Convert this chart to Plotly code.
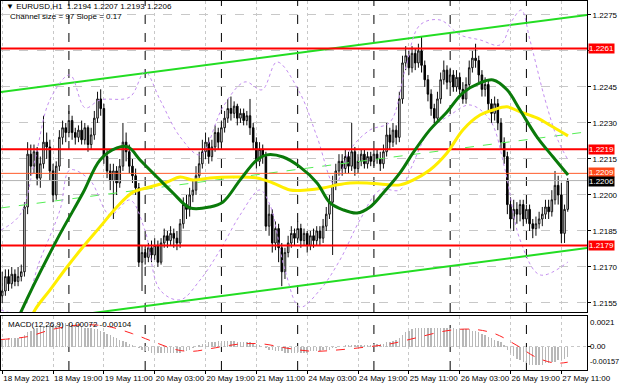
import plotly.graph_objects as go

# ---------------- data ----------------
open_ = [1.2158,1.2160,1.2166,1.2163,1.2167,1.2164,1.2166,1.2168,1.2195,1.2217,
         1.2212,1.2218,1.2207,1.2213,1.2222,1.2220,1.2210,1.2200,1.2212,1.2224,
         1.2228,1.2226,1.2231,1.2226,1.2224,1.2227,1.2223,1.2228,1.2221,1.2225,
         1.2232,1.2240,1.2236,1.2216,1.2210,1.2206,1.2210,1.2205,1.2212,1.2222,
         1.2218,1.2212,1.2208,1.2203,1.2172,1.2176,1.2174,1.2178,1.2175,1.2179,
         1.2172,1.2180,1.2183,1.2181,1.2184,1.2182,1.2180,1.2188,1.2196,1.2194,
         1.2200,1.2202,1.2208,1.2213,1.2218,1.2222,1.2216,1.2220,1.2226,1.2222,
         1.2228,1.2232,1.2236,1.2234,1.2237,1.2232,1.2234,1.2231,1.2233,1.2228,
         1.2222,1.2214,1.2219,1.2216,1.2187,1.2192,1.2180,1.2186,1.2178,1.2168,
         1.2176,1.2180,1.2184,1.2182,1.2186,1.2181,1.2184,1.2179,1.2183,1.2181,
         1.2185,1.2182,1.2187,1.2192,1.2197,1.2204,1.2210,1.2214,1.2211,1.2216,
         1.2212,1.2218,1.2211,1.2214,1.2217,1.2213,1.2216,1.2214,1.2217,1.2215,
         1.2213,1.2218,1.2225,1.2222,1.2227,1.2224,1.2240,1.2255,1.2258,1.2253,
         1.2259,1.2255,1.2260,1.2254,1.2248,1.2242,1.2236,1.2232,1.2240,1.2248,
         1.2252,1.2247,1.2250,1.2245,1.2249,1.2244,1.2240,1.2246,1.2253,1.2257,
         1.2256,1.2250,1.2244,1.2246,1.2238,1.2234,1.2238,1.2230,1.2222,1.2216,
         1.2196,1.2190,1.2194,1.2192,1.2196,1.2190,1.2194,1.2188,1.2186,1.2188,
         1.2190,1.2192,1.2195,1.2193,1.2198,1.2204,1.2200,1.2184,1.2194]
high = [1.2168,1.2169,1.2169,1.2170,1.2169,1.2170,1.2171,1.2197,1.2222,1.2221,
        1.2221,1.2220,1.2216,1.2233,1.2226,1.2223,1.2213,1.2214,1.2227,1.2231,
        1.2230,1.2235,1.2233,1.2228,1.2229,1.2231,1.2230,1.2229,1.2228,1.2235,
        1.2243,1.2244,1.2238,1.2219,1.2213,1.2213,1.2212,1.2215,1.2230,1.2226,
        1.2221,1.2215,1.2211,1.2205,1.2179,1.2179,1.2180,1.2181,1.2182,1.2181,
        1.2182,1.2186,1.2185,1.2187,1.2186,1.2185,1.2190,1.2199,1.2200,1.2203,
        1.2206,1.2212,1.2218,1.2223,1.2226,1.2224,1.2223,1.2229,1.2228,1.2231,
        1.2235,1.2240,1.2241,1.2239,1.2238,1.2236,1.2236,1.2235,1.2240,1.2230,
        1.2224,1.2222,1.2221,1.2218,1.2196,1.2194,1.2189,1.2188,1.2180,1.2178,
        1.2183,1.2187,1.2186,1.2189,1.2188,1.2186,1.2185,1.2185,1.2186,1.2187,
        1.2187,1.2190,1.2195,1.2200,1.2208,1.2213,1.2217,1.2217,1.2219,1.2218,
        1.2230,1.2220,1.2217,1.2219,1.2219,1.2218,1.2218,1.2219,1.2219,1.2218,
        1.2221,1.2230,1.2228,1.2230,1.2229,1.2243,1.2258,1.2262,1.2260,1.2262,
        1.2261,1.2263,1.2266,1.2256,1.2250,1.2244,1.2238,1.2243,1.2251,1.2256,
        1.2254,1.2253,1.2252,1.2252,1.2251,1.2247,1.2249,1.2256,1.2260,1.2263,
        1.2258,1.2252,1.2249,1.2248,1.2240,1.2241,1.2240,1.2232,1.2224,1.2218,
        1.2199,1.2198,1.2197,1.2198,1.2198,1.2196,1.2196,1.2190,1.2191,1.2193,
        1.2195,1.2198,1.2198,1.2202,1.2210,1.2208,1.2205,1.2196,1.2207]
low = [1.2155,1.2158,1.2160,1.2161,1.2162,1.2162,1.2164,1.2166,1.2192,1.2208,
       1.2209,1.2204,1.2203,1.2211,1.2215,1.2206,1.2197,1.2198,1.2210,1.2221,
       1.2222,1.2224,1.2223,1.2221,1.2222,1.2221,1.2221,1.2218,1.2219,1.2223,
       1.2230,1.2233,1.2213,1.2207,1.2202,1.2190,1.2200,1.2203,1.2210,1.2214,
       1.2209,1.2205,1.2200,1.2170,1.2160,1.2171,1.2172,1.2172,1.2173,1.2170,
       1.2171,1.2178,1.2178,1.2179,1.2178,1.2177,1.2178,1.2186,1.2190,1.2191,
       1.2197,1.2200,1.2206,1.2211,1.2215,1.2213,1.2214,1.2218,1.2219,1.2220,
       1.2226,1.2230,1.2231,1.2232,1.2229,1.2230,1.2229,1.2229,1.2225,1.2219,
       1.2211,1.2212,1.2213,1.2185,1.2183,1.2176,1.2177,1.2172,1.2162,1.2165,
       1.2174,1.2178,1.2179,1.2180,1.2178,1.2179,1.2176,1.2177,1.2178,1.2179,
       1.2179,1.2180,1.2185,1.2190,1.2175,1.2202,1.2208,1.2208,1.2209,1.2209,
       1.2210,1.2208,1.2209,1.2212,1.2211,1.2211,1.2212,1.2212,1.2213,1.2210,
       1.2211,1.2216,1.2219,1.2220,1.2221,1.2222,1.2238,1.2252,1.2250,1.2251,
       1.2252,1.2253,1.2251,1.2245,1.2239,1.2233,1.2230,1.2230,1.2238,1.2246,
       1.2244,1.2245,1.2243,1.2243,1.2242,1.2238,1.2238,1.2244,1.2251,1.2253,
       1.2247,1.2241,1.2241,1.2235,1.2230,1.2231,1.2227,1.2219,1.2213,1.2192,
       1.2186,1.2185,1.2188,1.2189,1.2187,1.2188,1.2185,1.2182,1.2183,1.2186,
       1.2187,1.2190,1.2190,1.2191,1.2196,1.2196,1.2180,1.2180,1.2193]
close = [1.2160,1.2166,1.2163,1.2167,1.2164,1.2166,1.2168,1.2195,1.2217,1.2212,
         1.2218,1.2207,1.2213,1.2222,1.2220,1.2210,1.2200,1.2212,1.2224,1.2228,
         1.2226,1.2231,1.2226,1.2224,1.2227,1.2223,1.2228,1.2221,1.2225,1.2232,
         1.2240,1.2236,1.2216,1.2210,1.2206,1.2210,1.2205,1.2212,1.2222,1.2218,
         1.2212,1.2208,1.2203,1.2172,1.2176,1.2174,1.2178,1.2175,1.2179,1.2172,
         1.2180,1.2183,1.2181,1.2184,1.2182,1.2180,1.2188,1.2196,1.2194,1.2200,
         1.2202,1.2208,1.2213,1.2218,1.2222,1.2216,1.2220,1.2226,1.2222,1.2228,
         1.2232,1.2236,1.2234,1.2237,1.2232,1.2234,1.2231,1.2233,1.2228,1.2222,
         1.2214,1.2219,1.2216,1.2187,1.2192,1.2180,1.2186,1.2178,1.2168,1.2176,
         1.2180,1.2184,1.2182,1.2186,1.2181,1.2184,1.2179,1.2183,1.2181,1.2185,
         1.2182,1.2187,1.2192,1.2197,1.2204,1.2210,1.2214,1.2211,1.2216,1.2212,
         1.2218,1.2211,1.2214,1.2217,1.2213,1.2216,1.2214,1.2217,1.2215,1.2213,
         1.2218,1.2225,1.2222,1.2227,1.2224,1.2240,1.2255,1.2258,1.2253,1.2259,
         1.2255,1.2260,1.2254,1.2248,1.2242,1.2236,1.2232,1.2240,1.2248,1.2252,
         1.2247,1.2250,1.2245,1.2249,1.2244,1.2240,1.2246,1.2253,1.2257,1.2256,
         1.2250,1.2244,1.2246,1.2238,1.2234,1.2238,1.2230,1.2222,1.2216,1.2196,
         1.2190,1.2194,1.2192,1.2196,1.2190,1.2194,1.2188,1.2186,1.2188,1.2190,
         1.2192,1.2195,1.2193,1.2198,1.2204,1.2200,1.2184,1.2194,1.2206]
bars = list(range(len(close)))

time_tick_bars = [0, 16, 32, 48, 64, 80, 96, 112, 128, 144, 160, 176]
time_tick_labels = ["18 May 2021", "18 May 19:00", "19 May 11:00", "20 May 03:00",
                    "20 May 19:00", "21 May 11:00", "24 May 03:00", "24 May 19:00",
                    "25 May 11:00", "26 May 03:00", "26 May 19:00", "27 May 11:00"]
day_separator_bars = [21, 45, 69, 93, 117, 141, 165]

price_ticks = [1.2155, 1.2170, 1.2185, 1.2200, 1.2215, 1.2230, 1.2245, 1.2260, 1.2275]
price_tick_labels = ["1.2155", "1.2170", "1.2185", "1.2200", "1.2215", "1.2230", "1.2245", "", "1.2275"]

level_prices = [1.2261, 1.2219, 1.2179]
ask_price = 1.2209
bid_price = 1.2206

# moving averages (bar position, price)
ma_green_x = [4, 6.2, 17.2, 25.4, 30.8, 36.1, 39.6, 43.4, 48.7, 53.8, 59.1, 65.4, 69.5, 74.9,
              80.2, 83.3, 88.4, 93.7, 99.1, 103.2, 107.3, 111.7, 115.8, 119.9, 125.2, 129.3,
              134.6, 140.0, 145.0, 150.4, 154.5, 158.9, 163.0, 168.3, 173.4, 178.1]
ma_green_y = [1.2145, 1.21521, 1.21813, 1.22008, 1.22146, 1.22196, 1.22200, 1.22146, 1.22075,
              1.22008, 1.21946, 1.21950, 1.21971, 1.22063, 1.22146, 1.22167, 1.22158, 1.22117,
              1.22050, 1.21967, 1.21938, 1.21925, 1.21950, 1.22008, 1.22092, 1.22175, 1.22271,
              1.22346, 1.22425, 1.22467, 1.22479, 1.22438, 1.22354, 1.22242, 1.22158, 1.22083]
ma_yellow_x = [8, 10.3, 15.0, 20.4, 25.4, 30.8, 36.1, 41.2, 46.5, 51.9, 56.0, 60.1, 65.4, 72.6,
               80.2, 85.2, 90.6, 95.9, 101.0, 105.4, 109.5, 114.8, 118.9, 125.2, 129.3, 134.6,
               140.0, 145.0, 150.4, 154.5, 158.9, 163.0, 168.3, 173.4, 178.1]
ma_yellow_y = [1.2145, 1.21521, 1.21604, 1.21700, 1.21783, 1.21867, 1.21950, 1.22012, 1.22033,
               1.22054, 1.22075, 1.22062, 1.22071, 1.22075, 1.22071, 1.22050, 1.22021, 1.22021,
               1.22029, 1.22042, 1.22050, 1.22050, 1.22046, 1.22042, 1.22062, 1.22104, 1.22175,
               1.22271, 1.22333, 1.22354, 1.22367, 1.22346, 1.22321, 1.22283, 1.22246]

# Bollinger-style envelope (dotted violet)
bb_upper_x = [-0.4, 5.6, 10.3, 15.0, 21.3, 26.1, 30.8, 40.2, 44.9, 49.7, 56.0, 62.3, 69.5, 76.4,
              81.8, 86.5, 93.7, 99.1, 104.7, 109.5, 115.8, 122.1, 126.8, 131.5, 137.8, 144.1,
              150.4, 156.7, 160.6, 163.4, 166.1, 170.9, 174.9, 178.1]
bb_upper_y = [1.21854, 1.21917, 1.22146, 1.22396, 1.22500, 1.22363, 1.22396, 1.22408, 1.22513,
              1.22396, 1.22242, 1.22167, 1.22367, 1.22471, 1.22438, 1.22554, 1.22425, 1.22242,
              1.22042, 1.22188, 1.22271, 1.22304, 1.22521, 1.22708, 1.22729, 1.22667, 1.22646,
              1.22625, 1.22729, 1.22770, 1.22646, 1.22396, 1.22229, 1.22146]
bb_lower_x = [-0.4, 5.6, 11.9, 18.2, 21.3, 27.6, 33.9, 40.2, 44.9, 49.7, 56.0, 62.3, 68.6, 74.9,
              81.1, 84.3, 89.0, 93.7, 100.0, 106.3, 112.6, 118.9, 125.2, 128.4, 134.6, 141.0,
              147.2, 153.5, 158.3, 163.0, 169.3, 178.1]
bb_lower_y = [1.21521, 1.21513, 1.21729, 1.21938, 1.22104, 1.22062, 1.21917, 1.21979, 1.21854,
              1.21604, 1.21563, 1.21646, 1.21771, 1.21917, 1.22021, 1.21958, 1.21688, 1.21533,
              1.21604, 1.21729, 1.21896, 1.22021, 1.22021, 1.22104, 1.22271, 1.22333, 1.22375,
              1.22313, 1.22104, 1.21813, 1.21667, 1.21721]

# regression channel (ends at chart edges)
channel_x = [-0.4, 184.1]
channel_upper = [1.22429, 1.22750]
channel_mid = [1.21946, 1.22263]
channel_lower = [1.21458, 1.21779]

# MACD(12,26,9)
macd_hist = [0.0005, 0.0005, 0.0006, 0.0006, 0.0006, 0.0006, 0.0006,
             0.0008, 0.0010, 0.0011, 0.0012, 0.0013, 0.0014, 0.0014, 0.0015, 0.0015, 0.0015, 0.0015, 0.0016,
             0.0016, 0.0016, 0.0016, 0.0015, 0.0015, 0.0014, 0.0014, 0.0013, 0.0013, 0.0013, 0.0012, 0.0012,
             0.0011, 0.0010, 0.0009, 0.0008, 0.0007, 0.0006, 0.0005, 0.0004, 0.0003, 0.0002, 0.0001,
             0.0000, -0.0001, -0.0002, -0.0003, -0.0003,
             -0.0004, -0.0004, -0.0004, -0.0004, -0.0004, -0.0004, -0.0004, -0.0004, -0.0004, -0.0004,
             -0.0003, -0.0003, -0.0002,
             -0.0001, 0.0000, 0.0001,
             0.0002, 0.0002, 0.0003, 0.0003, 0.0003, 0.0004, 0.0004, 0.0004, 0.0004, 0.0004, 0.0004,
             0.0003, 0.0003, 0.0003, 0.0003, 0.0003, 0.0002, 0.0002,
             0.0001, 0.0000, -0.0001, -0.0002, -0.0002, -0.0003, -0.0003, -0.0003, -0.0004, -0.0004,
             -0.0004, -0.0004, -0.0004, -0.0004, -0.0004, -0.0004, -0.0003, -0.0003, -0.0003, -0.0003,
             -0.0002, -0.0002, -0.0002, -0.0001, -0.0001,
             0.0000, 0.0000, 0.0001, 0.0001, 0.0001, 0.0001, 0.0001, 0.0001, 0.0001, 0.0001, 0.0001,
             0.0002, 0.0002, 0.0002, 0.0002,
             0.0003, 0.0003, 0.0004, 0.0005, 0.0006,
             0.0008, 0.0010, 0.0011, 0.0012, 0.0013, 0.0013, 0.0013, 0.0013, 0.0013, 0.0013, 0.0013,
             0.0013, 0.0013, 0.0013, 0.0013, 0.0013, 0.0013, 0.0012, 0.0012, 0.0012, 0.0012, 0.0012,
             0.0011, 0.0011, 0.0010,
             0.0009, 0.0008, 0.0007, 0.0006, 0.0005, 0.0004, 0.0003, 0.0001,
             -0.0002, -0.0004, -0.0006, -0.0008, -0.0009, -0.0010, -0.0011, -0.0012, -0.0012, -0.0012,
             -0.0012, -0.0012,
             -0.0011, -0.0011, -0.0010, -0.0010, -0.0009, -0.0009, -0.0008, -0.00072]
macd_signal_x = [-0.4, 8, 16, 25, 33, 41, 47, 55, 60, 66, 75, 82, 90, 98, 106, 115, 122, 130,
                 140, 148, 155, 162, 168, 174, 178]
macd_signal_y = [0.0005, 0.0007, 0.0012, 0.0015, 0.0014, 0.0009, 0.0004, -0.0002, -0.0003,
                 -0.0001, 0.0002, 0.0002, -0.0001, -0.0003, -0.0002, 0.0000, 0.0002, 0.0006,
                 0.0011, 0.0012, 0.0009, 0.0001, -0.0007, -0.0011, -0.00104]
macd_range = [-0.00157, 0.0021]

# ---------------- figure ----------------
FONT = "Liberation Sans"
FS = 8
GRID = "#c8c8c8"
fig = go.Figure()

# channel
fig.add_trace(go.Scatter(x=channel_x, y=channel_upper, mode="lines",
                         line=dict(color="#22dd22", width=2), xaxis="x", yaxis="y"))
fig.add_trace(go.Scatter(x=channel_x, y=channel_lower, mode="lines",
                         line=dict(color="#22dd22", width=2), xaxis="x", yaxis="y"))
fig.add_trace(go.Scatter(x=channel_x, y=channel_mid, mode="lines",
                         line=dict(color="#55ee55", width=1, dash="dash"), xaxis="x", yaxis="y"))
# bands
for bx, by in [(bb_upper_x, bb_upper_y), (bb_lower_x, bb_lower_y)]:
    fig.add_trace(go.Scatter(x=bx, y=by, mode="lines", line_shape="spline",
                             line=dict(color="#c38ef0", width=1, dash="dot"), xaxis="x", yaxis="y"))

# horizontal level lines
for lp in level_prices:
    fig.add_trace(go.Scatter(x=channel_x, y=[lp, lp], mode="lines",
                             line=dict(color="#ff0000", width=2), xaxis="x", yaxis="y"))
fig.add_trace(go.Scatter(x=channel_x, y=[ask_price, ask_price], mode="lines",
                         line=dict(color="#ff5a2a", width=1), xaxis="x", yaxis="y"))
fig.add_trace(go.Scatter(x=channel_x, y=[bid_price, bid_price], mode="lines",
                         line=dict(color="#b4b4b4", width=1), xaxis="x", yaxis="y"))

# moving averages
fig.add_trace(go.Scatter(x=ma_yellow_x, y=ma_yellow_y, mode="lines", line_shape="spline",
                         line=dict(color="#ffee00", width=3), xaxis="x", yaxis="y"))
fig.add_trace(go.Scatter(x=ma_green_x, y=ma_green_y, mode="lines", line_shape="spline",
                         line=dict(color="#0a7a0a", width=3), xaxis="x", yaxis="y"))

# candles
fig.add_trace(go.Candlestick(x=bars, open=open_, high=high, low=low, close=close,
                             increasing=dict(fillcolor="#ffffff", line=dict(color="#111111", width=1)),
                             decreasing=dict(fillcolor="#000000", line=dict(color="#000000", width=1)),
                             whiskerwidth=0, xaxis="x", yaxis="y"))

# MACD
fig.add_trace(go.Bar(x=bars, y=macd_hist, marker=dict(color="#b8b8b8", line=dict(width=0)),
                     width=0.45, xaxis="x2", yaxis="y2"))
fig.add_trace(go.Scatter(x=macd_signal_x, y=macd_signal_y, mode="lines", line_shape="spline",
                         line=dict(color="#ff2020", width=1, dash="dash"), xaxis="x2", yaxis="y2"))

xrange = [-0.38, 184.07]
main_dom = [0.15676, 0.9973]
macd_dom = [0.0, 0.14595]

shapes = []
for b in day_separator_bars:
    for yr in ["y domain", "y2 domain"]:
        shapes.append(dict(type="line", xref="x", yref=yr, x0=b, x1=b, y0=0, y1=1,
                           line=dict(color="#000000", width=1, dash="dash"), layer="below"))

annotations = []
annotations.append(dict(xref="paper", yref="paper", x=0.005, y=1.0, xanchor="left", yanchor="top",
                        yshift=0, showarrow=False, align="left",
                        text="\u25bc EURUSD,H1  1.2194 1.2207 1.2193 1.2206",
                        font=dict(family=FONT, size=FS, color="#000000")))
annotations.append(dict(xref="paper", yref="paper", x=0.012, y=0.972, xanchor="left", yanchor="top",
                        showarrow=False, align="left", text="Channel size = 97 Slope = 0.17",
                        font=dict(family=FONT, size=FS, color="#000000")))
annotations.append(dict(xref="paper", yref="paper", x=0.008, y=macd_dom[1], xanchor="left", yanchor="top",
                        yshift=-2, showarrow=False, text="MACD(12,26,9) -0.00072 -0.00104",
                        font=dict(family=FONT, size=FS, color="#000000")))

# right-side price boxes
for lp in level_prices:
    annotations.append(dict(xref="paper", yref="y", x=1.0, y=lp, xanchor="left", yanchor="middle",
                            xshift=1, showarrow=False, text="%.4f" % lp, bgcolor="#ff0000",
                            borderpad=0, font=dict(family=FONT, size=FS, color="#ffffff")))
annotations.append(dict(xref="paper", yref="y", x=1.0, y=ask_price, xanchor="left", yanchor="middle",
                        xshift=1, yshift=1, showarrow=False, text="%.4f" % ask_price, bgcolor="#ff4a1a",
                        borderpad=0, font=dict(family=FONT, size=FS, color="#ffffff")))
annotations.append(dict(xref="paper", yref="y", x=1.0, y=bid_price, xanchor="left", yanchor="middle",
                        xshift=1, yshift=-1, showarrow=False, text="%.4f" % bid_price, bgcolor="#000000",
                        borderpad=0, font=dict(family=FONT, size=FS, color="#ffffff")))
# MACD axis labels
for val, txt, ys, fs in [(macd_range[1], "0.0021", -7, FS), (0.0, "0.00", 0, FS),
                         (macd_range[0], "-0.00157", 8, 7.4)]:
    annotations.append(dict(xref="paper", yref="y2", x=1.0, y=val, xanchor="left", yanchor="middle",
                            xshift=1, yshift=ys, showarrow=False, text=txt,
                            font=dict(family=FONT, size=fs, color="#000000")))

fig.update_layout(
    width=620, height=388,
    margin=dict(l=1, r=33, t=0, b=18, autoexpand=False),
    paper_bgcolor="#ffffff", plot_bgcolor="#ffffff",
    showlegend=False,
    font=dict(family=FONT, size=FS, color="#000000"),
    xaxis=dict(domain=[0, 1], range=xrange, anchor="y", tickvals=time_tick_bars,
               showticklabels=False, ticks="", showgrid=True, gridcolor=GRID, griddash="dot",
               gridwidth=1, zeroline=False, showline=True, linecolor="#000000", mirror=True,
               rangeslider=dict(visible=False)),
    yaxis=dict(domain=main_dom, range=[1.215125, 1.22808], side="right", tickvals=price_ticks,
               ticktext=price_tick_labels, ticks="outside", ticklen=3, tickcolor="#000000",
               showgrid=True, gridcolor=GRID, griddash="dash", gridwidth=1, zeroline=False,
               showline=True, linecolor="#000000", mirror=True, automargin=False,
               tickfont=dict(family=FONT, size=FS)),
    xaxis2=dict(domain=[0, 1], range=xrange, anchor="y2", matches="x", tickvals=time_tick_bars,
                ticktext=time_tick_labels, ticks="outside", ticklen=3, tickcolor="#000000",
                tickangle=0, automargin=False,
                ticklabelposition="outside right", showgrid=True, gridcolor=GRID, griddash="dot",
                zeroline=False, showline=True, linecolor="#000000", mirror=True,
                tickfont=dict(family=FONT, size=FS)),
    yaxis2=dict(domain=macd_dom, range=macd_range, side="right", tickvals=[0.0],
                showticklabels=False, ticks="outside", ticklen=3, tickcolor="#000000",
                showgrid=True, gridcolor=GRID, griddash="dot", zeroline=False,
                showline=True, linecolor="#000000", mirror=True),
    bargap=0,
    shapes=shapes,
    annotations=annotations,
)

fig.write_html("out.html", config={"displayModeBar": False, "staticPlot": True},
               post_script="document.body.style.margin='0px';document.body.style.padding='0px';"
                           "document.body.style.overflow='hidden';")
